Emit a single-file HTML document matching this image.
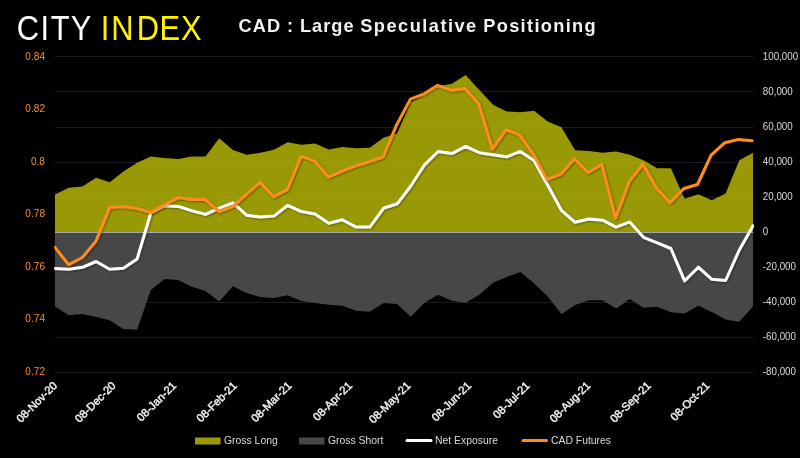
<!DOCTYPE html>
<html><head><meta charset="utf-8"><title>CAD : Large Speculative Positioning</title>
<style>
html,body{margin:0;padding:0;background:#000;}
body{width:800px;height:458px;overflow:hidden;}
svg{display:block;}
text{font-family:"Liberation Sans",sans-serif;}
.ax{font-size:10px;}
.xl{font-size:11.2px;font-weight:normal;fill:#f0f0f0;stroke:#f0f0f0;stroke-width:0.45px;}
.lg{font-size:10.4px;fill:#d9d9d9;}
</style></head><body>
<svg width="800" height="458" viewBox="0 0 800 458">
<defs><clipPath id="cp"><rect x="54.2" y="50" width="699.8" height="330"/></clipPath><filter id="sh" x="-5%" y="-20%" width="110%" height="140%"><feGaussianBlur in="SourceAlpha" stdDeviation="1"/><feOffset dx="0.6" dy="1"/><feComponentTransfer><feFuncA type="linear" slope="0.4"/></feComponentTransfer><feMerge><feMergeNode/><feMergeNode in="SourceGraphic"/></feMerge></filter></defs>
<rect width="800" height="458" fill="#000"/>

<line x1="55" x2="753.5" y1="56.5" y2="56.5" stroke="#1c1c1c" stroke-width="1"/>
<line x1="55" x2="753.5" y1="91.5" y2="91.5" stroke="#1c1c1c" stroke-width="1"/>
<line x1="55" x2="753.5" y1="127.5" y2="127.5" stroke="#1c1c1c" stroke-width="1"/>
<line x1="55" x2="753.5" y1="162.5" y2="162.5" stroke="#1c1c1c" stroke-width="1"/>
<line x1="55" x2="753.5" y1="197.5" y2="197.5" stroke="#1c1c1c" stroke-width="1"/>
<line x1="55" x2="753.5" y1="232.5" y2="232.5" stroke="#1c1c1c" stroke-width="1"/>
<line x1="55" x2="753.5" y1="267.5" y2="267.5" stroke="#1c1c1c" stroke-width="1"/>
<line x1="55" x2="753.5" y1="302.5" y2="302.5" stroke="#1c1c1c" stroke-width="1"/>
<line x1="55" x2="753.5" y1="337.5" y2="337.5" stroke="#1c1c1c" stroke-width="1"/>
<line x1="55" x2="753.5" y1="372.5" y2="372.5" stroke="#1c1c1c" stroke-width="1"/>
<polygon fill="#bfbf07" fill-opacity="0.8" points="55.0,232 55.0,194.5 68.7,187.8 82.4,186.5 96.1,177.7 109.7,182.2 123.4,171.4 137.1,162.7 150.8,156.6 164.5,158.1 178.2,159.1 191.9,156.6 205.5,156.6 219.2,138.3 232.9,150.1 246.6,154.8 260.3,152.8 274.0,149.8 287.7,142.3 301.4,144.8 315.0,143.6 328.7,149.6 342.4,147.1 356.1,148.3 369.8,147.8 383.5,137.8 397.2,133.3 410.8,102.0 424.5,95.0 438.2,86.3 451.9,83.8 465.6,75.0 479.3,90.1 493.0,104.7 506.6,111.4 520.3,112.2 534.0,110.7 547.7,121.5 561.4,127.3 575.1,150.3 588.8,151.0 602.5,152.7 616.1,151.4 629.8,154.7 643.5,160.2 657.2,168.3 670.9,168.3 684.6,198.7 698.3,194.2 711.9,200.2 725.6,193.5 739.3,160.2 753.0,152.7 753.0,232"/>
<polygon fill="#474747" points="55.0,233 55.0,306.4 68.7,315.2 82.4,313.9 96.1,316.9 109.7,320.2 123.4,329.0 137.1,329.7 150.8,290.0 164.5,279.0 178.2,279.9 191.9,286.8 205.5,291.1 219.2,301.5 232.9,286.2 246.6,293.0 260.3,297.0 274.0,298.0 287.7,295.2 301.4,301.0 315.0,303.0 328.7,304.8 342.4,305.8 356.1,310.8 369.8,311.8 383.5,303.0 397.2,304.0 410.8,316.7 424.5,302.8 438.2,294.7 451.9,300.8 465.6,302.8 479.3,294.7 493.0,282.7 506.6,276.9 520.3,271.9 534.0,283.2 547.7,296.5 561.4,314.1 575.1,304.9 588.8,300.3 602.5,300.3 616.1,308.5 629.8,299.0 643.5,307.8 657.2,306.8 670.9,312.3 684.6,313.6 698.3,305.8 711.9,312.0 725.6,319.6 739.3,321.8 753.0,306.5 753.0,233"/>
<line x1="55" x2="753.5" y1="232.5" y2="232.5" stroke="#a8a8a2" stroke-width="1"/>
<g clip-path="url(#cp)">
<polyline fill="none" stroke="#ffffff" stroke-width="3" stroke-linejoin="round" stroke-linecap="round" filter="url(#sh)" points="55.0,268.5 68.7,269.3 82.4,267.3 96.1,261.5 109.7,269.3 123.4,268.3 137.1,259.0 150.8,213.0 164.5,205.7 178.2,206.4 191.9,210.8 205.5,214.4 219.2,208.2 232.9,202.9 246.6,215.2 260.3,217.1 274.0,216.1 287.7,205.3 301.4,211.6 315.0,214.1 328.7,223.3 342.4,219.8 356.1,227.1 369.8,227.1 383.5,208.3 397.2,203.8 410.8,186.0 424.5,164.8 438.2,151.5 451.9,153.6 465.6,146.4 479.3,152.7 493.0,154.7 506.6,156.8 520.3,151.4 534.0,160.5 547.7,185.2 561.4,210.3 575.1,222.3 588.8,219.0 602.5,220.2 616.1,227.2 629.8,221.9 643.5,237.3 657.2,242.8 670.9,248.5 684.6,280.9 698.3,267.2 711.9,279.3 725.6,280.5 739.3,250.0 753.0,225.7"/>
<polyline fill="none" stroke="#ff8c1a" stroke-width="3" stroke-linejoin="round" stroke-linecap="round" filter="url(#sh)" points="55.0,247.4 68.7,264.7 82.3,257.5 96.0,241.1 109.7,207.4 123.3,206.4 137.0,208.5 150.7,212.4 164.4,204.9 178.0,197.6 191.7,199.6 205.4,199.6 219.0,211.6 232.7,206.6 246.4,194.5 260.0,182.4 273.7,196.7 287.4,189.7 301.1,156.2 314.7,161.2 328.4,177.2 342.1,171.2 355.7,165.8 369.4,161.7 383.1,157.0 396.7,124.7 410.4,99.1 424.1,93.8 437.7,85.3 451.4,90.3 465.1,88.6 478.8,104.1 492.4,149.2 506.1,129.7 519.8,135.1 533.4,154.4 547.1,179.4 560.8,174.2 574.4,158.7 588.1,172.5 601.8,164.5 615.5,218.2 629.1,181.9 642.8,164.0 656.5,188.2 670.1,202.7 683.8,188.5 697.5,184.5 711.1,155.2 724.8,142.7 738.5,139.4 752.1,140.7"/>
</g>
<text class="ax" x="45" y="59.9" text-anchor="end" fill="#ff8c1a" style="font-size:10.1px">0.84</text>
<text class="ax" x="45" y="112.4" text-anchor="end" fill="#ff8c1a" style="font-size:10.1px">0.82</text>
<text class="ax" x="45" y="164.9" text-anchor="end" fill="#ff8c1a" style="font-size:10.1px">0.8</text>
<text class="ax" x="45" y="217.4" text-anchor="end" fill="#ff8c1a" style="font-size:10.1px">0.78</text>
<text class="ax" x="45" y="269.9" text-anchor="end" fill="#ff8c1a" style="font-size:10.1px">0.76</text>
<text class="ax" x="45" y="322.4" text-anchor="end" fill="#ff8c1a" style="font-size:10.1px">0.74</text>
<text class="ax" x="45" y="374.9" text-anchor="end" fill="#ff8c1a" style="font-size:10.1px">0.72</text>
<text class="ax" transform="translate(762.8,59.9) scale(0.96,1)" fill="#d9d9d9" style="font-size:10.2px">100,000</text>
<text class="ax" transform="translate(762.8,94.9) scale(0.96,1)" fill="#d9d9d9" style="font-size:10.2px">80,000</text>
<text class="ax" transform="translate(762.8,129.9) scale(0.96,1)" fill="#d9d9d9" style="font-size:10.2px">60,000</text>
<text class="ax" transform="translate(762.8,164.9) scale(0.96,1)" fill="#d9d9d9" style="font-size:10.2px">40,000</text>
<text class="ax" transform="translate(762.8,199.9) scale(0.96,1)" fill="#d9d9d9" style="font-size:10.2px">20,000</text>
<text class="ax" transform="translate(762.8,234.9) scale(0.96,1)" fill="#d9d9d9" style="font-size:10.2px">0</text>
<text class="ax" transform="translate(762.8,270.0) scale(0.96,1)" fill="#d9d9d9" style="font-size:10.2px">-20,000</text>
<text class="ax" transform="translate(762.8,305.0) scale(0.96,1)" fill="#d9d9d9" style="font-size:10.2px">-40,000</text>
<text class="ax" transform="translate(762.8,340.0) scale(0.96,1)" fill="#d9d9d9" style="font-size:10.2px">-60,000</text>
<text class="ax" transform="translate(762.8,375.0) scale(0.96,1)" fill="#d9d9d9" style="font-size:10.2px">-80,000</text>
<text class="xl" text-anchor="end" transform="translate(57.9,386.3) rotate(-45)">08-Nov-20</text>
<text class="xl" text-anchor="end" transform="translate(116.5,386.3) rotate(-45)">08-Dec-20</text>
<text class="xl" text-anchor="end" transform="translate(177.0,386.3) rotate(-45)">08-Jan-21</text>
<text class="xl" text-anchor="end" transform="translate(237.6,386.3) rotate(-45)">08-Feb-21</text>
<text class="xl" text-anchor="end" transform="translate(292.3,386.3) rotate(-45)">08-Mar-21</text>
<text class="xl" text-anchor="end" transform="translate(352.8,386.3) rotate(-45)">08-Apr-21</text>
<text class="xl" text-anchor="end" transform="translate(411.4,386.3) rotate(-45)">08-May-21</text>
<text class="xl" text-anchor="end" transform="translate(471.9,386.3) rotate(-45)">08-Jun-21</text>
<text class="xl" text-anchor="end" transform="translate(530.5,386.3) rotate(-45)">08-Jul-21</text>
<text class="xl" text-anchor="end" transform="translate(591.1,386.3) rotate(-45)">08-Aug-21</text>
<text class="xl" text-anchor="end" transform="translate(651.6,386.3) rotate(-45)">08-Sep-21</text>
<text class="xl" text-anchor="end" transform="translate(710.2,386.3) rotate(-45)">08-Oct-21</text>
<rect x="195" y="437.5" width="25.5" height="7" fill="#999906"/><text class="lg" x="224" y="443.7">Gross Long</text>
<rect x="299" y="437.5" width="25.5" height="7" fill="#474747"/><text class="lg" x="328" y="443.7">Gross Short</text>
<line x1="407" x2="431" y1="440.5" y2="440.5" stroke="#fff" stroke-width="3" stroke-linecap="round"/><text class="lg" x="435" y="443.7">Net Exposure</text>
<line x1="523" x2="546.5" y1="440.5" y2="440.5" stroke="#ff8c1a" stroke-width="3" stroke-linecap="round"/><text class="lg" x="551" y="443.7">CAD Futures</text>
<text y="31.8" font-size="18.2px" font-weight="bold" fill="#f2f2f2"><tspan x="238.6" textLength="41.6" lengthAdjust="spacing">CAD</tspan> <tspan x="287.0" textLength="6.0" lengthAdjust="spacing">:</tspan> <tspan x="300.0" textLength="53.5" lengthAdjust="spacing">Large</tspan> <tspan x="360.2" textLength="116.0" lengthAdjust="spacing">Speculative</tspan> <tspan x="483.2" textLength="112.5" lengthAdjust="spacing">Positioning</tspan></text>
<text transform="scale(0.86,1)" x="19.50 47.12 58.95 82.17" y="39.55" font-size="35.9px" fill="#ffffff">CITY</text>
<text transform="scale(0.86,1)" x="117.12 129.25 158.95 185.43 210.51" y="39.55" font-size="35.9px" fill="#fff200">INDEX</text>
</svg></body></html>
